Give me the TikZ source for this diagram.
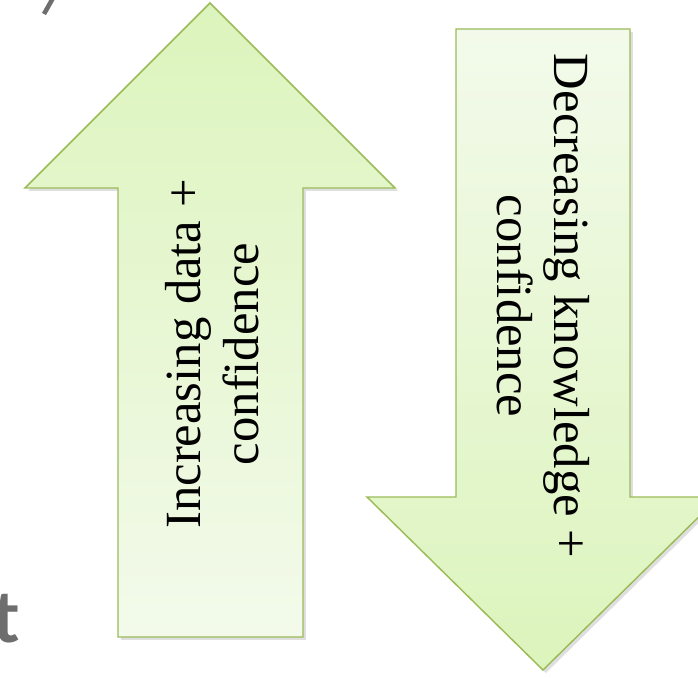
\documentclass[tikz,border=0pt]{standalone}
\usepackage{fontspec}
\setmainfont{Liberation Serif}
\newfontfamily\fragfont{Lato}
\usetikzlibrary{shadows}
\definecolor{arrowline}{HTML}{9BBB59}
\definecolor{headgreen}{HTML}{DCF4BC}
\definecolor{tailgreen}{HTML}{F3FAEB}
\definecolor{fraggray}{HTML}{6E6E6E}
\tikzset{
  bigarrow/.style={draw=arrowline, line width=1.1pt, line join=miter,
    drop shadow={shadow xshift=2.2pt, shadow yshift=-2.2pt, opacity=0.25}},
  arrowtext/.style={font=\fontsize{38}{43}\selectfont, align=center, text=black, inner sep=0pt}
}
\begin{document}
\begin{tikzpicture}[x=0.75pt, y=-0.75pt]
\useasboundingbox (0,0) rectangle (698,677);
% fragments of text from outside the picture
\draw[fraggray, line width=3.4pt] (53,-2) -- (44,14);
\node[font=\fragfont\bfseries\fontsize{54}{54}\selectfont, text=fraggray, anchor=base east, inner sep=0pt] (tfrag) at (20,642) {t};
% up arrow
\path[bigarrow, top color=headgreen, bottom color=tailgreen]
  (210,3) -- (395,188) -- (303,188) -- (303,637) -- (118,637) -- (118,188) -- (25,188) -- cycle;
% down arrow
\path[bigarrow, top color=tailgreen, bottom color=headgreen]
  (456,29) -- (630,29) -- (630,497) -- (719,497) -- (543,670) -- (367,497) -- (456,497) -- cycle;
\node[arrowtext, rotate=90] (uptext) at (212,354) {Increasing data +\\confidence};
\node[arrowtext, rotate=-90] (downtext) at (543,306) {Decreasing knowledge +\\confidence};
\end{tikzpicture}
\end{document}
